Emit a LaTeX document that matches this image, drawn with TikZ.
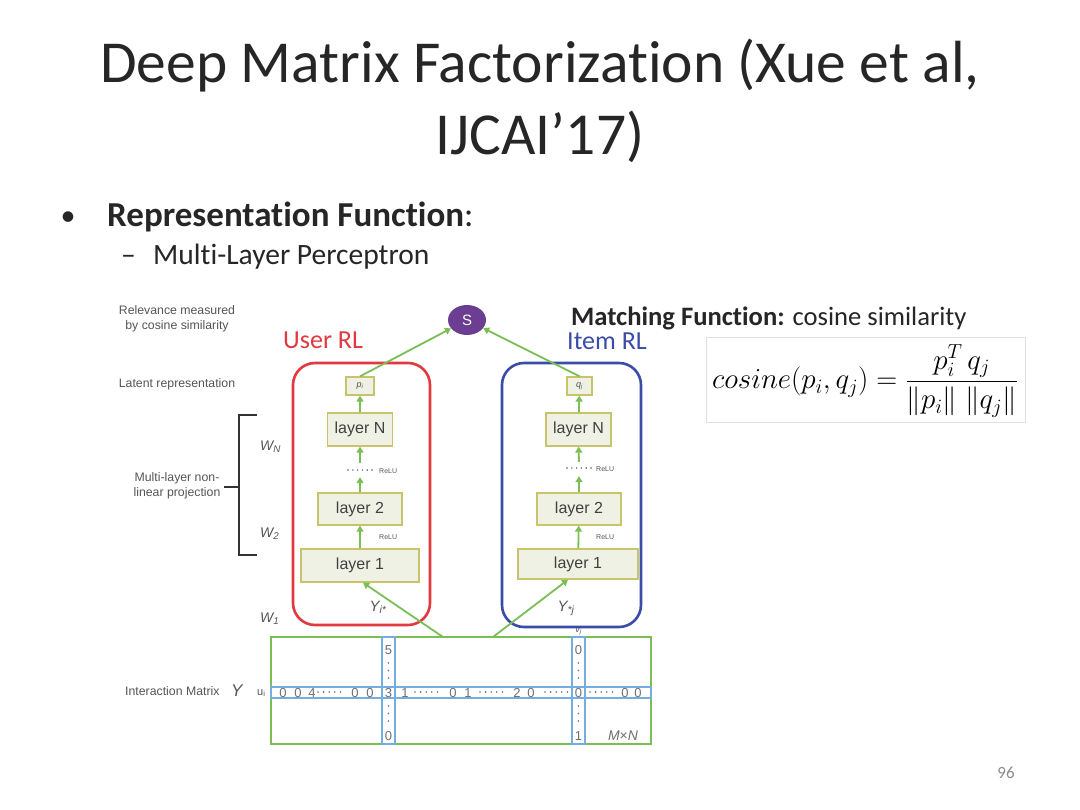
\RequirePackage{fix-cm}
\documentclass[tikz,border=0pt]{standalone}
\usepackage{amsmath}
\usepackage{fontspec}
\setmainfont{Carlito}[Ligatures=NoCommon]
\newfontfamily\helv{Liberation Sans}
\usetikzlibrary{arrows.meta,shapes.geometric}
\definecolor{titlec}{HTML}{262626}
\definecolor{lblc}{HTML}{555555}
\definecolor{mtxc}{HTML}{707070}
\definecolor{grn}{HTML}{7BBE55}
\definecolor{ylw}{HTML}{C9C46A}
\definecolor{ylwfill}{HTML}{EEF1E3}
\definecolor{redc}{HTML}{E2383F}
\definecolor{bluec}{HTML}{3A4CA8}
\definecolor{lblue}{HTML}{74AEE0}
\definecolor{purp}{HTML}{6B3E91}
\definecolor{pgc}{HTML}{8C8C8C}
\newcommand\mydotsh[2]{\foreach \k in {0,...,4} \fill[mtxc] (#1+\k*5.6,#2) circle (0.9pt);}
\newcommand\mydotsv[2]{\foreach \k in {0,1,2} \fill[mtxc] (#1,#2+\k*7.5) circle (0.9pt);}
\begin{document}
\begin{tikzpicture}[x=1pt,y=-1pt,
  lbl/.style={font=\helv\fontsize{12.3}{15.5}\selectfont, text=lblc, inner sep=0pt},
  wlbl/.style={font=\helv\itshape\fontsize{14}{16}\selectfont, text=lblc, inner sep=0pt, anchor=base west},
  lay/.style={draw=ylw, fill=ylwfill, line width=1.3pt, inner sep=0pt, font=\helv\fontsize{16}{18}\selectfont, text=black!75},
  pbox/.style={draw=ylw, fill=ylwfill, line width=1.3pt, inner sep=0pt, font=\helv\itshape\fontsize{9}{10}\selectfont, text=lblc, minimum height=18pt},
  garr/.style={draw=grn, line width=1.8pt, -{Triangle[length=6pt,width=7pt]}},
  relu/.style={font=\helv\fontsize{7}{8}\selectfont, text=lblc, inner sep=0pt},
  dig/.style={font=\helv\fontsize{13}{14}\selectfont, text=mtxc, inner sep=0pt, anchor=base},
  dotbox/.style={minimum width=26pt, minimum height=14pt, inner sep=0pt},
  rl/.style={rounded corners=22pt, line width=2.6pt, inner sep=0pt}]
\useasboundingbox[fill=white] (0,0) rectangle (1080,810);

% title and bullets
\node[anchor=base, text=titlec, inner sep=0pt, font=\fontsize{59.5}{72}\selectfont] (t1) at (540,83) {Deep Matrix Factorization (Xue et al,};
\node[anchor=base, text=titlec, inner sep=0pt, font=\fontsize{59.5}{72}\selectfont] (t2) at (540,155) {IJCAI’17)};
\node[anchor=base, text=titlec, inner sep=0pt, font=\fontsize{30}{40}\selectfont] (b1) at (68,226) {•};
\node[anchor=base west, text=titlec, inner sep=0pt, font=\fontsize{35}{40}\selectfont] (b1t) at (107,227) {\textbf{Representation Function}:};
\node[anchor=base west, text=titlec, inner sep=0pt, font=\fontsize{29.5}{34}\selectfont] (b2) at (121,265) {–};
\node[anchor=base west, text=titlec, inner sep=0pt, font=\fontsize{29.5}{34}\selectfont] (b2t) at (153,265) {Multi-Layer Perceptron};
\node[anchor=base west, text=titlec, inner sep=0pt, font=\fontsize{26.6}{30}\selectfont] (mf) at (571,326) {\textbf{Matching Function:} cosine similarity};

% formula
\node[draw=black!12, line width=0.8pt, minimum width=319pt, minimum height=85pt, inner sep=0pt] (fbox) at (865.5,379.5) {};
\node[inner sep=0pt, font=\fontsize{29}{34}\selectfont] (form) at (865,381) {$\displaystyle cosine(p_i,q_j)=\frac{p_i^T\,q_j}{\|p_i\|\;\|q_j\|}$};

% left labels
\node[lbl, align=center] (rel) at (177,319) {Relevance measured\\by cosine similarity};
\node[lbl, anchor=base] (lat) at (177,388) {Latent representation};
\node[lbl, align=center] (mlp) at (177,486) {Multi-layer non-\\linear projection};
\coordinate (brT) at (239,415);
\coordinate (brB) at (239,555);
\coordinate (brTe) at (257,415);
\coordinate (brBe) at (257,555);
\coordinate (brM) at (239,487);
\coordinate (brMe) at (224,487);
\draw[black!80, line width=1.2pt] (brTe) -- (brT) -- (brB) -- (brBe);
\draw[black!80, line width=1.2pt] (brM) -- (brMe);
\node[wlbl] (wn) at (260,450) {W\textsubscript{N}};
\node[wlbl] (w2) at (260,537) {W\textsubscript{2}};
\node[wlbl] (w1) at (260,622) {W\textsubscript{1}};
\node[lbl, anchor=base west] (im) at (125,695) {Interaction Matrix};
\node[anchor=base west, inner sep=0pt, text=lblc, font=\helv\itshape\fontsize{17}{18}\selectfont] (ylab) at (231,696) {Y};
\node[anchor=base west, inner sep=0pt, text=lblc, font=\helv\fontsize{11}{12}\selectfont] (ui) at (257,695) {u\textsubscript{i}};

% RL boxes
\node[rl, draw=redc, minimum width=137pt, minimum height=262pt] (userRL) at (361.5,494) {};
\node[rl, draw=bluec, minimum width=139pt, minimum height=264pt] (itemRL) at (571.5,495) {};
\node[anchor=base west, inner sep=0pt, text=redc, font=\fontsize{26}{30}\selectfont] (ulab) at (283,349) {User RL};
\node[anchor=base west, inner sep=0pt, text=bluec, font=\fontsize{26}{30}\selectfont] (ilab) at (567,350) {Item RL};

% S node
\node[ellipse, fill=purp, minimum width=38pt, minimum height=30pt, inner sep=0pt, text=white, font=\helv\fontsize{15}{18}\selectfont] (S) at (467,320) {S};

% user tower
\node[pbox, minimum width=28pt] (pL) at (360,386) {p\textsubscript{i}};
\node[lay, minimum width=65pt, minimum height=33pt] (lNL) at (360,429.5) {layer N};
\node[dotbox] (dL) at (360,470) {};
\foreach \k in {0,...,5} \fill[lblc] (348+\k*4.8,470) circle (0.8pt);
\node[relu, anchor=west] (r1L) at (379,471) {ReLU};
\node[lay, minimum width=84pt, minimum height=32pt] (l2L) at (360,509) {layer 2};
\node[relu, anchor=west] (r2L) at (379,537) {ReLU};
\node[lay, minimum width=118pt, minimum height=33pt] (l1L) at (360,565.5) {layer 1};
\node[anchor=base, inner sep=0pt, text=lblc, font=\helv\itshape\fontsize{15}{16}\selectfont] (yi) at (378,611) {Y\textsubscript{i*}};

% item tower
\node[pbox, minimum width=25pt] (qR) at (579.5,386) {q\textsubscript{j}};
\node[lay, minimum width=65pt, minimum height=33pt] (lNR) at (578.5,429.5) {layer N};
\node[dotbox] (dR) at (579,469) {};
\foreach \k in {0,...,5} \fill[lblc] (567+\k*4.8,468) circle (0.8pt);
\node[relu, anchor=west] (r1R) at (596,469) {ReLU};
\node[lay, minimum width=84pt, minimum height=32pt] (l2R) at (579,509) {layer 2};
\node[relu, anchor=west] (r2R) at (596,537) {ReLU};
\node[lay, minimum width=120pt, minimum height=30pt] (l1R) at (578,564) {layer 1};
\node[anchor=base, inner sep=0pt, text=lblc, font=\helv\itshape\fontsize{15}{16}\selectfont] (yj) at (566,611) {Y\textsubscript{*j}};

% arrows
\draw[garr] (l1L) -- (l2L);
\draw[garr] (l2L) -- (dL);
\draw[garr] (dL) -- (lNL);
\draw[garr] (lNL) -- (pL);
\draw[garr] (l1R) -- (l2R);
\draw[garr] (l2R) -- (dR);
\draw[garr] (dR) -- (lNR);
\draw[garr] (lNR) -- (qR);
\draw[garr] (pL.north) -- (S);
\draw[garr] (qR.north) -- (S);

% matrix
\node[draw=grn, line width=1.6pt, minimum width=380pt, minimum height=107pt, inner sep=0pt] (mat) at (461,690.5) {};
\coordinate (mL) at (443,637);
\coordinate (mR) at (493,637);
\draw[garr] (mL) -- ([xshift=3pt]l1L.south);
\draw[garr] (mR) -- ([xshift=-10pt]l1R.south);
\node[draw=lblue, line width=1.5pt, minimum width=380pt, minimum height=11pt, inner sep=0pt] (row) at (461,692.5) {};
\node[draw=lblue, line width=1.5pt, minimum width=13pt, minimum height=107pt, inner sep=0pt] (colL) at (388.5,690.5) {};
\node[draw=lblue, line width=1.5pt, minimum width=13pt, minimum height=107pt, inner sep=0pt] (colR) at (578.5,690.5) {};
\node[anchor=base, inner sep=0pt, text=lblc, font=\helv\itshape\fontsize{9}{10}\selectfont] (vj) at (578.5,632) {v\textsubscript{j}};

\foreach \xx/\dd in {283/0,298/0,312/4,355/0,370/0,388.5/3,405/1,453/0,468/1,517/2,531/0,578.5/0,625/0,638/0}
  \node[dig] at (\xx,697) {\dd};
\node[dig] (c1) at (388.5,654) {5};
\node[dig] (c2) at (388.5,740) {0};
\node[dig] (c3) at (578.5,654) {0};
\node[dig] (c4) at (578.5,740) {1};
\mydotsh{318}{692}
\mydotsh{415}{692}
\mydotsh{480}{692}
\mydotsh{545}{692}
\mydotsh{590}{692}
\mydotsv{388.5}{663}
\mydotsv{388.5}{706}
\mydotsv{578.5}{663}
\mydotsv{578.5}{706}
\node[anchor=base, inner sep=0pt, text=mtxc, font=\helv\fontsize{14}{16}\selectfont] (mn) at (623,740) {\textit{M}×\textit{N}};

% page number
\node[anchor=base, inner sep=0pt, text=pgc, font=\fontsize{17}{20}\selectfont] (pg) at (1006,778) {96};
\end{tikzpicture}
\end{document}
